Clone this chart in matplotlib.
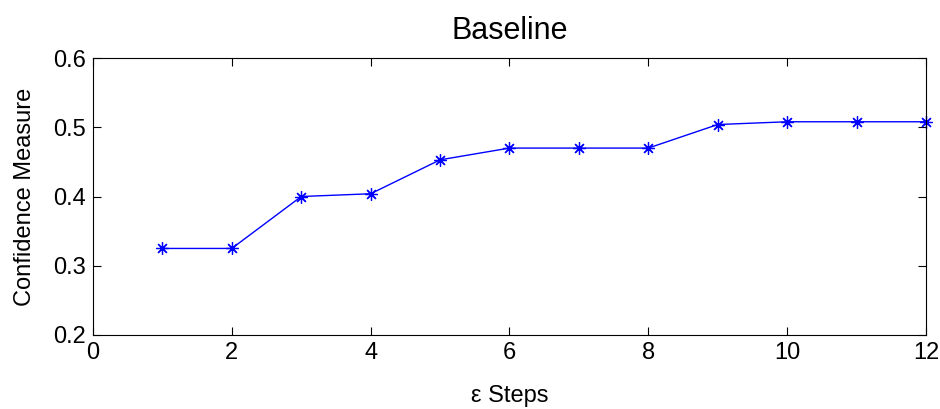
import numpy as np
import matplotlib.pyplot as plt

plt.rcParams['font.family'] = ['Liberation Sans', 'DejaVu Sans']

steps = [1, 2, 3, 4, 5, 6, 7, 8, 9, 10, 11, 12]
confidence = [0.325, 0.325, 0.400, 0.404, 0.453, 0.470, 0.470, 0.470, 0.504, 0.508, 0.508, 0.508]

fig = plt.figure(figsize=(9.4, 4.09), dpi=100)
ax = fig.add_axes([0.0989, 0.181, 0.8862, 0.677])
ax.plot(steps, confidence, color='blue', marker=(8, 2, 0), markersize=9, linewidth=1,
        markeredgewidth=0.9, clip_on=False)
ax.set_xlim(0, 12)
ax.set_ylim(0.2, 0.6)
ax.set_xticks(range(0, 13, 2))
ax.set_yticks([0.2, 0.3, 0.4, 0.5, 0.6])
ax.tick_params(direction='in', top=True, right=True, labelsize=17, length=6, pad=5)
ax.set_xlabel('ε Steps', fontsize=17, labelpad=15)
ax.set_ylabel('Confidence Measure', fontsize=17, labelpad=12)
ax.set_title('Baseline', fontsize=22, pad=14)

plt.savefig('out.png', dpi=100)
